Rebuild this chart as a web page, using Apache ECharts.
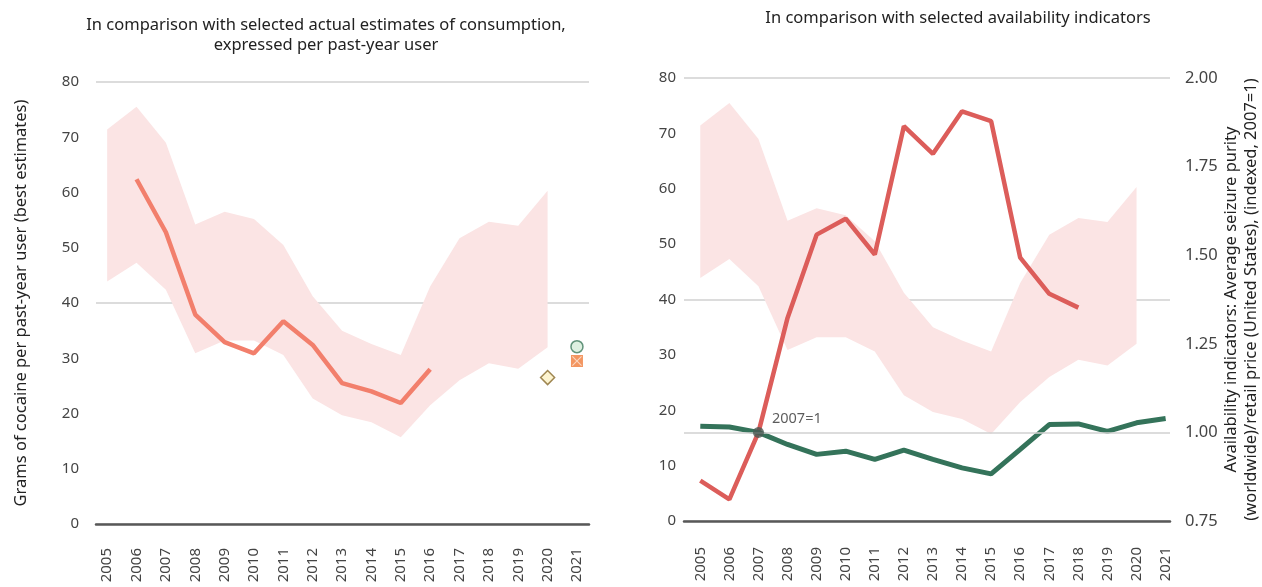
<!DOCTYPE html>
<html>
<head>
<meta charset="utf-8">
<script src="https://cdn.jsdelivr.net/npm/echarts@6/dist/echarts.min.js"></script>
<style>html,body{margin:0;padding:0;background:#fff}#c{width:1262px;height:587px}</style>
</head>
<body>
<div id="c"></div>
<script>
// ---- data ----
const years = [2005, 2006, 2007, 2008, 2009, 2010, 2011, 2012, 2013, 2014, 2015, 2016, 2017, 2018, 2019, 2020, 2021];
const bandYears = [2005, 2006, 2007, 2008, 2009, 2010, 2011, 2012, 2013, 2014, 2015, 2016, 2017, 2018, 2019, 2020];
const bandUpper = [71.4, 75.5, 69.0, 54.2, 56.5, 55.2, 50.5, 41.2, 35.0, 32.6, 30.6, 43.0, 51.7, 54.7, 54.0, 60.3];
const bandLower = [43.9, 47.3, 42.4, 30.9, 33.2, 33.2, 30.6, 22.7, 19.7, 18.4, 15.7, 21.5, 26.0, 29.1, 28.1, 32.0];
const bestYears = [2006, 2007, 2008, 2009, 2010, 2011, 2012, 2013, 2014, 2015, 2016];
const bestEstimate = [62.4, 52.8, 37.9, 32.9, 30.9, 36.7, 32.4, 25.5, 24.0, 21.9, 28.0];
const estimateDiamond = [[2020, 26.5]];
const estimateCircle = [[2021, 32.1]];
const estimateSquare = [[2021, 29.5]];
const purityYears = [2005, 2006, 2007, 2008, 2009, 2010, 2011, 2012, 2013, 2014, 2015, 2016, 2017, 2018];
const purityIndex = [0.864, 0.811, 1.0, 1.323, 1.558, 1.603, 1.502, 1.864, 1.786, 1.906, 1.878, 1.493, 1.391, 1.352];
const priceIndex = [1.0175, 1.015, 1.0, 0.966, 0.938, 0.947, 0.924, 0.950, 0.924, 0.900, 0.883, 0.952, 1.022, 1.024, 1.003, 1.027, 1.039];
const indexBaseline = 1.0;

// ---- helpers ----
const pairs = (xs, ys) => xs.map((x, i) => [x, ys[i]]);
const TICK_FONT = "'Noto Sans', sans-serif";
const TEXT_FONT = "'Noto Sans', sans-serif";
const BAND = '#fbe4e4';
const GRID = '#d0d0d0';

const xAxisBase = (grid, min, max, margin) => ({
  gridIndex: grid, type: 'value', min: min, max: max,
  axisLine: { show: true, onZero: false, lineStyle: { color: '#585858', width: 2.5 } },
  axisTick: { show: false },
  splitLine: { show: false },
  axisLabel: {
    customValues: years, rotate: 90, margin: margin,
    formatter: v => String(v),
    fontFamily: TICK_FONT, fontSize: 15, color: '#444'
  }
});
const yLabelAxis = (grid, margin, extra) => Object.assign({
  gridIndex: grid, type: 'value', min: 0, max: 80, interval: 10,
  axisLine: { show: false }, axisTick: { show: false }, splitLine: { show: false },
  axisLabel: { margin: margin, fontFamily: TICK_FONT, fontSize: 15, color: '#444' }
}, extra || {});
const yGridAxis = (grid) => ({
  gridIndex: grid, type: 'value', min: 0, max: 80, interval: 40,
  axisLine: { show: false }, axisTick: { show: false }, axisLabel: { show: false },
  splitLine: { show: true, lineStyle: { color: GRID, width: 1.5 } }
});

const bandSeries = (xi, yi) => ({
  type: 'custom', coordinateSystem: 'cartesian2d', xAxisIndex: xi, yAxisIndex: yi, z: 1, silent: true,
  data: [[bandYears[0], bandLower[0]]],
  encode: { x: 0, y: 1 },
  renderItem: (params, api) => {
    const pts = [];
    for (let i = 0; i < bandYears.length; i++) pts.push(api.coord([bandYears[i], bandUpper[i]]));
    for (let i = bandYears.length - 1; i >= 0; i--) pts.push(api.coord([bandYears[i], bandLower[i]]));
    return { type: 'polygon', shape: { points: pts }, style: { fill: BAND } };
  }
});

const option = {
  animation: false,
  backgroundColor: '#fff',
  title: [
    {
      text: 'In comparison with selected actual estimates of consumption,\nexpressed per past-year user',
      left: 326, top: 15, textAlign: 'center', padding: 0,
      textStyle: { fontFamily: TEXT_FONT, fontSize: 16.5, fontWeight: 'normal', color: '#222', lineHeight: 20 }
    },
    {
      text: 'In comparison with selected availability indicators',
      left: 958, top: 8, textAlign: 'center', padding: 0,
      textStyle: { fontFamily: TEXT_FONT, fontSize: 16.5, fontWeight: 'normal', color: '#222', lineHeight: 20 }
    }
  ],
  grid: [
    { left: 96, top: 82, width: 493, height: 442 },
    { left: 684, top: 78, width: 491, height: 443 }
  ],
  xAxis: [
    xAxisBase(0, 2004.62, 2021.41, 24),
    xAxisBase(1, 2004.44, 2021.15, 26)
  ],
  yAxis: [
    yLabelAxis(0, 17, {
      name: 'Grams of cocaine per past-year user (best estimates)',
      nameLocation: 'middle', nameGap: 65, nameRotate: 90,
      nameTextStyle: { fontFamily: TEXT_FONT, fontSize: 16.5, color: '#222', lineHeight: 20 }
    }),
    yGridAxis(0),
    yLabelAxis(1, 8),
    yGridAxis(1),
    {
      gridIndex: 1, type: 'value', position: 'right', min: 0.75, max: 2, interval: 0.25,
      axisLine: { show: false }, axisTick: { show: false }, splitLine: { show: false },
      axisLabel: { margin: 15, formatter: v => v.toFixed(2), fontFamily: TICK_FONT, fontSize: 16.5, color: '#444' },
      name: 'Availability indicators: Average seizure purity\n(worldwide)/retail price (United States), (indexed, 2007=1)',
      nameLocation: 'middle', nameGap: 51, nameRotate: 90, nameMoveOverlap: false,
      nameTextStyle: { fontFamily: TEXT_FONT, fontSize: 16.5, color: '#222', lineHeight: 20 }
    }
  ],
  series: [
    bandSeries(0, 0),
    {
      name: 'Best estimate', type: 'line', xAxisIndex: 0, yAxisIndex: 0, z: 3,
      data: pairs(bestYears, bestEstimate), symbol: 'none',
      lineStyle: { color: '#f27f6c', width: 4.5 }
    },
    {
      type: 'scatter', xAxisIndex: 0, yAxisIndex: 0, z: 4, data: estimateDiamond,
      symbol: 'diamond', symbolSize: 14,
      itemStyle: { color: '#fdf1c4', borderColor: '#87692a', borderWidth: 1.5 }
    },
    {
      type: 'scatter', xAxisIndex: 0, yAxisIndex: 0, z: 4, data: estimateCircle,
      symbol: 'circle', symbolSize: 12,
      itemStyle: { color: '#d6ecd9', borderColor: '#3e7b5e', borderWidth: 1.5 }
    },
    {
      type: 'scatter', xAxisIndex: 0, yAxisIndex: 0, z: 4, data: estimateSquare,
      symbol: 'rect', symbolSize: 12,
      itemStyle: { color: '#f07c3a' }
    },
    {
      type: 'scatter', xAxisIndex: 0, yAxisIndex: 0, z: 5, data: estimateSquare,
      symbol: 'path://M0,0.8 L0.8,0 L5,4.2 L9.2,0 L10,0.8 L5.8,5 L10,9.2 L9.2,10 L5,5.8 L0.8,10 L0,9.2 L4.2,5 Z', symbolSize: 10,
      itemStyle: { color: '#fde6d8' }
    },
    bandSeries(1, 2),
    {
      type: 'line', xAxisIndex: 1, yAxisIndex: 4, z: 1, silent: true,
      data: [[years[0], indexBaseline]], symbol: 'none', lineStyle: { opacity: 0 },
      markLine: {
        silent: true, symbol: 'none', label: { show: false }, animation: false,
        lineStyle: { color: GRID, width: 1.5, type: 'solid' },
        data: [{ yAxis: indexBaseline }]
      }
    },
    {
      name: 'Average seizure purity / retail price', type: 'line', xAxisIndex: 1, yAxisIndex: 4, z: 3,
      data: pairs(purityYears, purityIndex), symbol: 'none',
      lineStyle: { color: '#dc5d5a', width: 4.5 }
    },
    {
      name: 'Retail price index', type: 'line', xAxisIndex: 1, yAxisIndex: 4, z: 3,
      data: pairs(years, priceIndex), symbol: 'none',
      lineStyle: { color: '#34735a', width: 5 }
    },
    {
      type: 'scatter', xAxisIndex: 1, yAxisIndex: 4, z: 5,
      data: [[years[2], priceIndex[2]]], symbol: 'circle', symbolSize: 11,
      itemStyle: { color: '#4b5a54' },
      label: {
        show: true, position: 'right', distance: 6, offset: [2, -14],
        formatter: '2007=1', fontFamily: TEXT_FONT, fontSize: 14.5, color: '#333'
      }
    }
  ]
};

const chart = echarts.init(document.getElementById('c'), null, { renderer: 'canvas' });
chart.setOption(option);
</script>
</body>
</html>
